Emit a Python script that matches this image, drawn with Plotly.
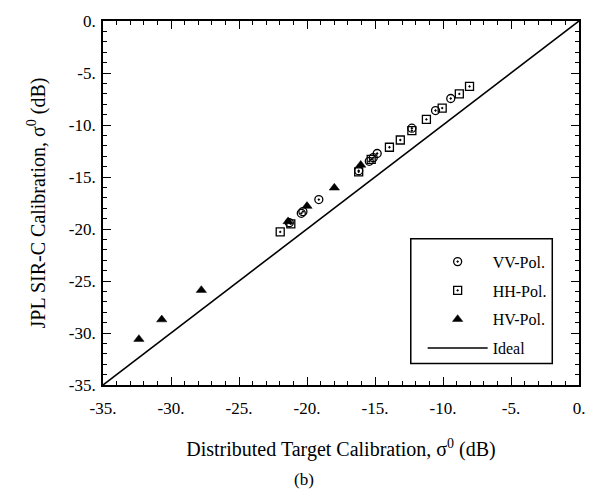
import plotly.graph_objects as go

# ---- data ----
vv_x = [-9.43, -10.55, -12.29, -14.84, -15.13, -15.42, -16.2, -19.13, -20.3, -20.42, -21.3]
vv_y = [-7.45, -8.61, -10.31, -12.74, -13.14, -13.49, -14.4, -17.17, -18.33, -18.49, -19.4]
hh_x = [-8.05, -8.80, -10.06, -11.22, -12.29, -13.14, -13.94, -15.28, -16.2, -21.19, -21.97]
hh_y = [-6.29, -7.01, -8.37, -9.46, -10.54, -11.44, -12.14, -13.3, -14.5, -19.5, -20.28]
hv_x = [-16.05, -17.99, -20.0, -21.39, -27.77, -30.68, -32.36]
hv_y = [-13.84, -16.04, -17.8, -19.27, -25.88, -28.71, -30.59]
ideal_x = [-35, 0]
ideal_y = [-35, 0]
tick_vals = [-35, -30, -25, -20, -15, -10, -5, 0]
tick_text = ["-35.", "-30.", "-25.", "-20.", "-15.", "-10.", "-5.", "0."]

FONT = "Liberation Serif, Times New Roman, serif"
W, H = 597, 493
ML, MR, MT, MB = 103, 13, 14, 108

fig = go.Figure()
fig.add_trace(go.Scatter(x=vv_x, y=vv_y, mode="markers", name="VV-Pol.",
                         legendgroup="a",
                         marker=dict(symbol="circle-open-dot", size=8, color="black",
                                     line=dict(width=1.3, color="black"))))
fig.add_trace(go.Scatter(x=hh_x, y=hh_y, mode="markers", name="HH-Pol.",
                         legendgroup="b",
                         marker=dict(symbol="square-open-dot", size=8, color="black",
                                     line=dict(width=1.3, color="black"))))
fig.add_trace(go.Scatter(x=hv_x, y=hv_y, mode="markers", name="HV-Pol.",
                         legendgroup="c",
                         marker=dict(symbol="triangle-up", size=9, color="black",
                                     line=dict(width=0.5, color="black"))))
fig.add_trace(go.Scatter(x=ideal_x, y=ideal_y, mode="lines", name="Ideal",
                         legendgroup="d",
                         line=dict(color="black", width=1.6)))

axis_common = dict(
    range=[-35, 0], tickvals=tick_vals, ticktext=tick_text,
    ticks="inside", ticklen=8, tickwidth=1.4, tickcolor="black",
    minor=dict(dtick=1, ticks="inside", ticklen=4, tickwidth=1.1, tickcolor="black"),
    showline=True, linecolor="black", linewidth=1.8, mirror="allticks",
    showgrid=False, zeroline=False,
    tickfont=dict(family=FONT, size=17, color="black"),
)

fig.update_xaxes(**axis_common, ticklabelstandoff=7,
                 title=dict(text="Distributed Target Calibration, σ<sup>0</sup> (dB)",
                            font=dict(family=FONT, size=20, color="black"), standoff=25))
fig.update_yaxes(**axis_common, ticklabelstandoff=2,
                 title=dict(text="JPL SIR-C Calibration, σ<sup>0</sup> (dB)",
                            font=dict(family=FONT, size=20, color="black"), standoff=18))

pw = W - ML - MR
ph = H - MT - MB
def px(xp):
    return (xp - ML) / pw
def py(yp):
    return 1 - (yp - MT) / ph

# legend box
fig.add_shape(type="rect", xref="paper", yref="paper",
              x0=px(414), x1=px(557), y0=py(363), y1=py(236),
              line=dict(color="black", width=1.5), fillcolor="white", layer="below")

fig.add_annotation(text="(b)", xref="paper", yref="paper", x=px(306), y=py(481),
                   xanchor="center", yanchor="middle",
                   showarrow=False, font=dict(family=FONT, size=17, color="black"))

fig.update_layout(
    width=W, height=H,
    margin=dict(l=ML, r=MR, t=MT, b=MB),
    paper_bgcolor="white", plot_bgcolor="white",
    showlegend=True,
    legend=dict(x=px(426), y=py(242), xanchor="left", yanchor="top",
                bgcolor="rgba(0,0,0,0)", borderwidth=0,
                font=dict(family=FONT, size=16, color="black"),
                tracegroupgap=5, traceorder="grouped", itemwidth=60),
)

fig.write_html("out.html")
